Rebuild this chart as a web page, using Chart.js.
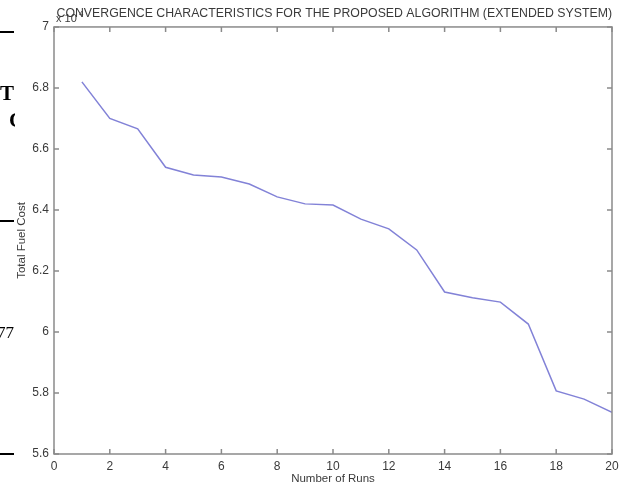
<!DOCTYPE html>
<html>
<head>
<meta charset="utf-8">
<script src="https://cdn.jsdelivr.net/npm/chart.js@4.4.1/dist/chart.umd.min.js"></script>
<style>
    html, body { margin: 0; padding: 0; background: #fff; }
    #wrap { width: 626px; height: 488px; }
</style>
</head>
<body>
<div id="wrap"><canvas id="convChart" width="626" height="488"></canvas></div>
<script>
// Data (cost in $/h, axis shows x10^4)
const runs = [1, 2, 3, 4, 5, 6, 7, 8, 9, 10, 11, 12, 13, 14, 15, 16, 17, 18, 19, 20];
const fuelCost = [68200, 67000, 66660, 65400, 65150, 65080, 64850, 64430, 64200, 64160,
                  63700, 63380, 62690, 61310, 61120, 60980, 60260, 58070, 57800, 57370];
const xRange = [0, 20];
const yRange = [56000, 70000];
const titleText = 'CONVERGENCE CHARACTERISTICS FOR THE PROPOSED ALGORITHM (EXTENDED SYSTEM)';

const axisColor = '#8a8a8a';
const textColor = '#3a3a3a';
const fontFamily = '"Liberation Sans", Arial, sans-serif';

// Matlab style box with inward tick marks
const boxPlugin = {
    id: 'box',
    afterDraw(chart) {
        const ctx = chart.ctx;
        const a = chart.chartArea;
        const xs = chart.scales.x, ys = chart.scales.y;
        ctx.save();
        ctx.strokeStyle = axisColor;
        ctx.lineWidth = 1.5;
        ctx.strokeRect(a.left, a.top, a.right - a.left, a.bottom - a.top);
        ctx.beginPath();
        xs.ticks.forEach(t => {
            const px = xs.getPixelForValue(t.value);
            ctx.moveTo(px, a.bottom); ctx.lineTo(px, a.bottom - 5);
            ctx.moveTo(px, a.top); ctx.lineTo(px, a.top + 5);
        });
        ys.ticks.forEach(t => {
            const py = ys.getPixelForValue(t.value);
            ctx.moveTo(a.left, py); ctx.lineTo(a.left + 5, py);
            ctx.moveTo(a.right, py); ctx.lineTo(a.right - 5, py);
        });
        ctx.stroke();

        // exponent label, sits under the title like in the original
        ctx.fillStyle = textColor;
        ctx.font = '11px ' + fontFamily;
        ctx.textBaseline = 'alphabetic';
        ctx.fillText('x 10', a.left + 2, a.top - 5);
        ctx.font = '8px ' + fontFamily;
        ctx.fillText('4', a.left + 25, a.top - 11);
        ctx.restore();
    }
};

// bits of the scanned page left of the figure
const scanPlugin = {
    id: 'scan',
    afterDraw(chart) {
        const ctx = chart.ctx;
        ctx.save();
        ctx.beginPath();
        ctx.rect(0, 0, 15, chart.height);
        ctx.clip();
        ctx.fillStyle = '#000';
        [31, 220, 453].forEach(y => ctx.fillRect(0, y, 14, 2));
        ctx.font = 'bold 21px "Liberation Serif", serif';
        ctx.textBaseline = 'alphabetic';
        ctx.fillText('T', 0, 100);
        ctx.fillText('C', 9, 127);
        ctx.font = '17px "Liberation Serif", serif';
        ctx.fillText('77', -3, 338);
        ctx.restore();
    }
};

new Chart(document.getElementById('convChart').getContext('2d'), {
    type: 'line',
    data: {
        datasets: [{
            data: runs.map((r, i) => ({ x: r, y: fuelCost[i] })),
            borderColor: 'rgb(130,130,215)',
            borderWidth: 1.5,
            pointRadius: 0,
            fill: false,
            tension: 0
        }]
    },
    options: {
        responsive: false,
        animation: false,
        layout: {
            autoPadding: false,
            padding: { top: 0, right: 14, left: 0, bottom: 0 }
        },
        plugins: {
            legend: { display: false },
            tooltip: { enabled: false },
            title: {
                display: true,
                text: titleText,
                color: textColor,
                font: { family: fontFamily, size: 12.3, weight: 'normal' },
                padding: { top: 6, bottom: 6.2 },
                align: 'end'
            }
        },
        scales: {
            x: {
                type: 'linear',
                min: xRange[0],
                max: xRange[1],
                ticks: {
                    stepSize: 2,
                    color: textColor,
                    padding: 5,
                    maxRotation: 0,
                    font: { family: fontFamily, size: 12 }
                },
                grid: { display: false, drawTicks: false },
                border: { display: false },
                title: {
                    display: true,
                    text: 'Number of Runs',
                    color: textColor,
                    font: { family: fontFamily, size: 11.5 },
                    padding: { top: 0, bottom: 2 }
                },
                afterFit(scale) { scale.height = 34; }
            },
            y: {
                min: yRange[0],
                max: yRange[1],
                ticks: {
                    stepSize: 2000,
                    color: textColor,
                    padding: 5,
                    font: { family: fontFamily, size: 12 },
                    callback: v => String(Number((v / 1e4).toFixed(1)))
                },
                grid: { display: false, drawTicks: false },
                border: { display: false },
                title: {
                    display: true,
                    text: 'Total Fuel Cost',
                    color: textColor,
                    font: { family: fontFamily, size: 11.5 },
                    padding: { top: 15, bottom: 0 }
                },
                afterFit(scale) { scale.width = 54; }
            }
        }
    },
    plugins: [boxPlugin, scanPlugin]
});
</script>
</body>
</html>
